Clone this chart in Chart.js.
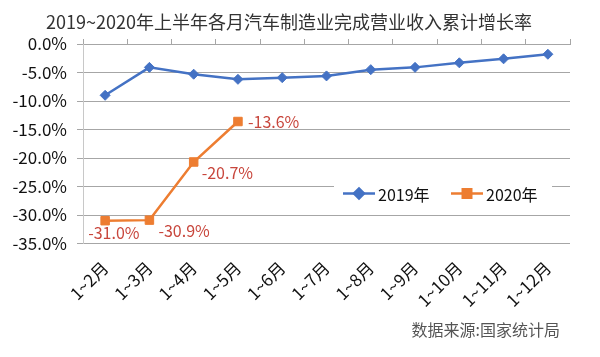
<!DOCTYPE html>
<html>
<head>
<meta charset="utf-8">
<script src="https://cdn.jsdelivr.net/npm/chart.js@4/dist/chart.umd.min.js"></script>
<style>
html,body{margin:0;padding:0;background:#fff;}
#wrap{width:600px;height:357px;position:relative;}
</style>
</head>
<body>
<div id="wrap"><canvas id="c" width="600" height="357"></canvas></div>
<script>
const titleText = '2019~2020年上半年各月汽车制造业完成营业收入累计增长率';
const sourceText = '数据来源:国家统计局';
const categories = ['1~2月','1~3月','1~4月','1~5月','1~6月','1~7月','1~8月','1~9月','1~10月','1~11月','1~12月'];
const series2019 = [-9.0, -4.1, -5.3, -6.2, -5.9, -5.6, -4.5, -4.1, -3.3, -2.6, -1.8];
const series2020 = [-31.0, -30.9, -20.7, -13.6];
const seriesNames = ['2019年','2020年'];
const yTicks = [0, -5, -10, -15, -20, -25, -30, -35];

const FONT = '"Noto Sans CJK SC", "Noto Sans", sans-serif';
const BLUE = '#4472C4';
const ORANGE = '#ED7D31';
const LABEL_RED = '#C8463C';
const GRID = '#A6A6A6';

const decor = {
  id: 'decor',
  afterDraw(chart) {
    const ctx = chart.ctx;
    const area = chart.chartArea;
    ctx.save();
    // title
    ctx.fillStyle = '#333';
    ctx.font = '18px ' + FONT;
    ctx.textAlign = 'center';
    ctx.textBaseline = 'middle';
    ctx.fillText(titleText, 289, 22);
    // source
    ctx.fillStyle = '#555';
    ctx.font = '16px ' + FONT;
    ctx.textAlign = 'right';
    ctx.fillText(sourceText, 560, 330);

    // legend
    const ly = area.top + (area.bottom - area.top) * (25/35) + 7;
    ctx.fillStyle = '#fff';
    ctx.fillRect(334, ly - 10, 218, 20);
    const ds = chart.data.datasets;
    const items = [{x: 343, ds: ds[0]}, {x: 451, ds: ds[1]}];
    ctx.font = '16px ' + FONT;
    ctx.textAlign = 'left';
    items.forEach(it => {
      ctx.strokeStyle = it.ds.borderColor;
      ctx.lineWidth = 2.5;
      ctx.beginPath();
      ctx.moveTo(it.x, ly);
      ctx.lineTo(it.x + 32, ly);
      ctx.stroke();
      Chart.helpers.drawPoint(ctx, {pointStyle: it.ds.pointStyle, radius: it.ds.pointRadius, borderWidth: 1}, it.x + 16, ly);
      ctx.fillStyle = it.ds.borderColor;
      ctx.fill();
      ctx.fillStyle = '#111';
      ctx.fillText(it.ds.label, it.x + 35, ly + 1);
    });

    // data labels for 2020
    const meta = chart.getDatasetMeta(1);
    const offs = [[-17, 12], [9, 11], [8, 11], [10, 0]];
    ctx.fillStyle = LABEL_RED;
    ctx.font = '16px ' + FONT;
    ctx.textAlign = 'left';
    ctx.textBaseline = 'middle';
    meta.data.forEach((p, i) => {
      const v = series2020[i];
      ctx.fillText(v.toFixed(1) + '%', p.x + offs[i][0], p.y + offs[i][1]);
    });
    ctx.restore();
  }
};

new Chart(document.getElementById('c'), {
  type: 'line',
  data: {
    labels: categories,
    datasets: [
      {
        label: seriesNames[0],
        data: series2019,
        borderColor: BLUE,
        backgroundColor: BLUE,
        borderWidth: 2.5,
        pointStyle: 'rectRot',
        pointRadius: 5,
        pointBorderWidth: 1,
        tension: 0,
        xAxisID: 'x'
      },
      {
        label: seriesNames[1],
        data: series2020,
        borderColor: ORANGE,
        backgroundColor: ORANGE,
        borderWidth: 2.5,
        pointStyle: 'rect',
        pointRadius: 6,
        pointBorderWidth: 1,
        tension: 0,
        xAxisID: 'x'
      }
    ]
  },
  options: {
    responsive: false,
    animation: false,
    devicePixelRatio: 1,
    layout: { padding: { left: 0, right: 30, top: 39, bottom: 0 } },
    plugins: {
      legend: { display: false },
      title: { display: false },
      tooltip: { enabled: false }
    },
    scales: {
      x: {
        type: 'category',
        position: 'bottom',
        offset: true,
        grid: { display: false, drawTicks: false },
        border: { display: false },
        ticks: {
          autoSkip: false,
          minRotation: 45,
          maxRotation: 45,
          padding: 14,
          color: '#111',
          font: { family: FONT, size: 17 }
        },
        afterFit(s) { s.height = 113.5; }
      },
      xTop: {
        type: 'category',
        position: 'top',
        labels: categories,
        offset: true,
        grid: { offset: true, drawOnChartArea: false, tickLength: 5, color: GRID },
        border: { display: true, color: GRID },
        ticks: { display: false },
        afterFit(s) { s.height = 5; }
      },
      y: {
        min: -35,
        max: 0,
        afterBuildTicks(s) { s.ticks = yTicks.map(v => ({ value: v })); },
        grid: { color: GRID, tickLength: 6 },
        border: { display: true, color: '#C8C8C8' },
        ticks: {
          padding: 10,
          color: '#111',
          font: { family: FONT, size: 17 },
          callback: v => v.toFixed(1) + '%'
        },
        afterFit(s) { s.width = 83; }
      }
    }
  },
  plugins: [decor]
});
</script>
</body>
</html>
